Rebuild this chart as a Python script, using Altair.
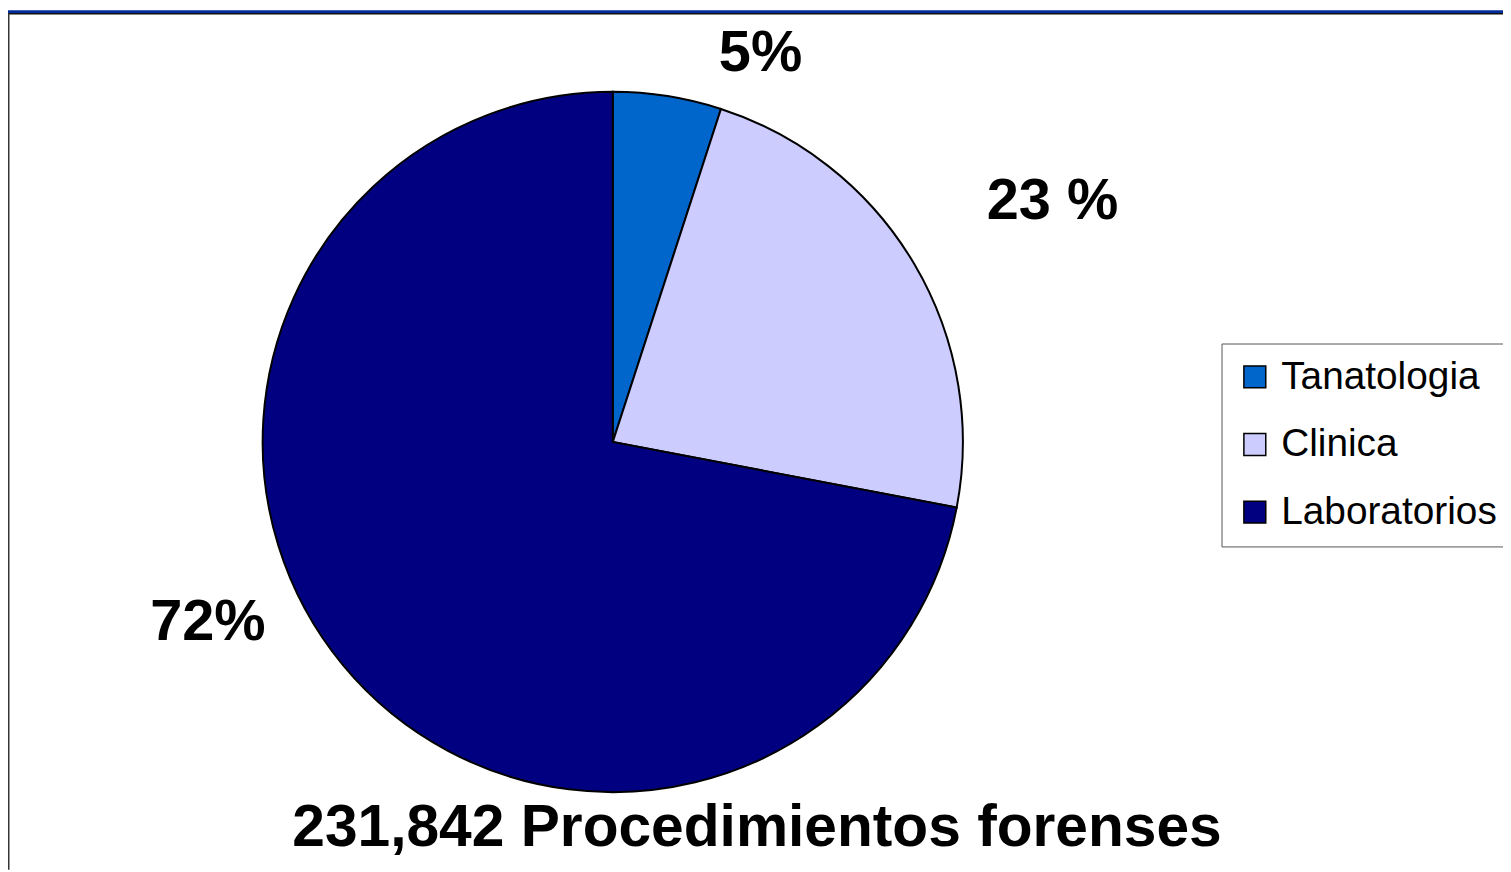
import altair as alt
import pandas as pd

# ---- data ----
categories = ["Tanatologia", "Clinica", "Laboratorios"]
values = [5, 23, 72]
labels = ["5%", "23 %", "72%"]
order = [0, 1, 2]
colors = ["#0066CC", "#CCCCFF", "#000080"]
title_text = "231,842 Procedimientos forenses"

df = pd.DataFrame({"categoria": categories, "valor": values,
                   "etiqueta": labels, "orden": order})

W, H = 1503, 864
CX, CY, R = 608, 434, 352
FONT = "Liberation Sans"

color = alt.Color(
    "categoria:N",
    scale=alt.Scale(domain=categories, range=colors),
    sort=categories,
    legend=alt.Legend(
        title=None, orient="none", legendX=1220, legendY=335,
        fillColor="white", strokeColor="#555555", padding=14,
        symbolType="square", symbolSize=484, symbolStrokeColor="black",
        symbolStrokeWidth=1.5, symbolOpacity=1,
        labelFontSize=39, labelFont=FONT, labelColor="black",
        labelOffset=7, rowPadding=28, labelLimit=400,
    ),
)

pie = alt.Chart(df).mark_arc(radius=R, stroke="black", strokeWidth=2).encode(
    theta=alt.Theta("valor:Q", stack=True),
    order=alt.Order("orden:Q"),
    color=color,
    x=alt.value(CX),
    y=alt.value(CY),
)

# label positions computed from cumulative angles
lab_base = alt.Chart(df).transform_window(
    cum="sum(valor)", sort=[alt.SortField("orden")]
).transform_joinaggregate(total="sum(valor)").transform_calculate(
    mid="(datum.cum - datum.valor/2) / datum.total * 2 * PI"
)

label_style = [
    ("Tanatologia", 400, 86, 5),
    ("Clinica", 502, 10, 14),
    ("Laboratorios", 440, -68, -98),
]
label_layers = []
for cat, r, ddx, ddy in label_style:
    label_layers.append(
        lab_base.transform_filter(alt.datum.categoria == cat).mark_text(
            font=FONT, fontSize=58, fontWeight="bold", color="black",
            align="center", baseline="middle", radius=r, dx=ddx, dy=ddy,
        ).encode(
            theta=alt.Theta("mid:Q", scale=None),
            text="etiqueta:N",
            x=alt.value(CX),
            y=alt.value(CY),
        )
    )

deco = pd.DataFrame({"t": [title_text]})
title = alt.Chart(deco).mark_text(
    font=FONT, fontSize=59, fontWeight="bold", color="black",
    align="center", baseline="alphabetic",
).encode(text="t:N", x=alt.value(753), y=alt.value(840))

band = alt.Chart(deco).mark_rect(color="#002B99").encode(
    x=alt.value(0), x2=alt.value(W), y=alt.value(0), y2=alt.value(3))
top_line = alt.Chart(deco).mark_rule(color="#111111", strokeWidth=1.5).encode(
    x=alt.value(0), x2=alt.value(W), y=alt.value(3.5))
left_line = alt.Chart(deco).mark_rule(color="#333333", strokeWidth=1.5).encode(
    x=alt.value(0.75), y=alt.value(3), y2=alt.value(H))

chart = alt.layer(pie, *label_layers, title, band, top_line, left_line).properties(
    width=W, height=H,
    autosize=alt.AutoSizeParams(type="none"),
    padding=0,
    background="white",
).configure_view(stroke=None)

chart.save("out.html", embed_options={"renderer": "svg", "actions": False})
